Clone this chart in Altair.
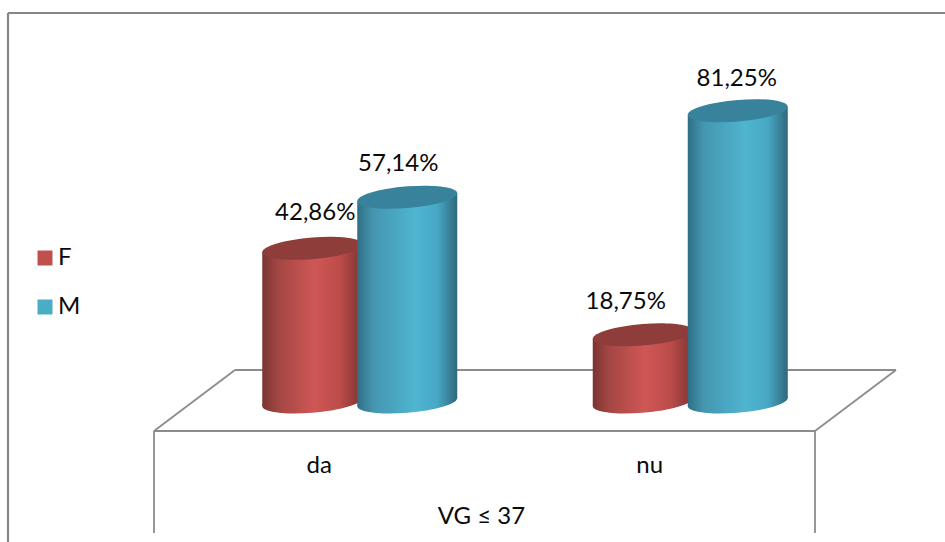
import altair as alt
import pandas as pd

# Share of each sex within the two answer groups
categories = ["da", "nu"]
series_names = ["F", "M"]
series_f = [42.86, 18.75]
series_m = [57.14, 81.25]
axis_title = "VG ≤ 37"

colors = {"F": "#c0504d", "M": "#4bacc6"}
top_colors = {"F": "#8f3d3a", "M": "#38839b"}
stops = {
    "F": [(0, "#7b3432"), (0.16, "#a34643"), (0.52, "#cf5755"), (0.78, "#bb4c4a"), (1, "#7b3432")],
    "M": [(0, "#2f6e85"), (0.16, "#4596b0"), (0.58, "#4fb5d1"), (0.8, "#47a8c4"), (1, "#2e687c")],
}

W, H = 945, 542
BAND_PX = 330.5          # horizontal pixels per category
FRONT_PX = 154           # left end of the floor's front edge
BASE_PX = 406            # vertical position of value 0
PER_UNIT = 3.585         # pixels per percentage point
CYL_W = 100              # cylinder width in pixels
RISE = 8                 # the cylinder's right side sits this many pixels higher
CAP_B = 10.8             # half-height of a cap before shearing
FONT = "Lato"
FONT_SIZE = 24
INK = "#0a0a0a"

x_scale = alt.Scale(domain=[-FRONT_PX / BAND_PX, (W - FRONT_PX) / BAND_PX], nice=False, zero=False)
y_scale = alt.Scale(domain=[(BASE_PX - H) / PER_UNIT, BASE_PX / PER_UNIT], nice=False, zero=False)


def cap_path(half_w, half_rise, half_h):
    """Closed sheared ellipse in the [-1, 1] square used by custom point shapes."""
    k = 0.5523
    s, m = half_rise / half_w, half_h / half_w

    def pt(c, t):
        return f"{c:.4f},{-s * c + m * t:.4f}"

    return (
        f"M{pt(1, 0)} C{pt(1, -k)} {pt(k, -1)} {pt(0, -1)} "
        f"C{pt(-k, -1)} {pt(-1, -k)} {pt(-1, 0)} "
        f"C{pt(-1, k)} {pt(-k, 1)} {pt(0, 1)} "
        f"C{pt(k, 1)} {pt(1, k)} {pt(1, 0)} Z"
    )


CAP = cap_path(CYL_W / 2, RISE / 2, CAP_B)
CAP_SIZE = CYL_W ** 2


def gradient(name):
    return alt.Gradient(
        gradient="linear", x1=0, x2=1, y1=0, y2=0,
        stops=[alt.GradientStop(offset=o, color=c) for o, c in stops[name]],
    )


# Cylinder centres: series side by side, pushed back onto the floor
SERIES_SHIFT = {"F": -47.5, "M": 47.5}
DEPTH_SHIFT = 40.5
rows = []
for name, values in zip(series_names, [series_f, series_m]):
    for i, (cat, v) in enumerate(zip(categories, values)):
        rows.append({
            "series": name, "category": cat, "value": v,
            "cx": i + 0.5 + (SERIES_SHIFT[name] + DEPTH_SHIFT) / BAND_PX,
            "label": f"{v:.2f}".replace(".", ",") + "%",
        })
cylinders = pd.DataFrame(rows)

body_rows = []
for r in rows:
    for side in (-1, 1):
        body_rows.append({
            **r,
            "x": r["cx"] + side * (CYL_W / 2) / BAND_PX,
            "top": r["value"] + (side + 1) / 2 * RISE / PER_UNIT,
            "bottom": (side + 1) / 2 * RISE / PER_UNIT,
        })
bodies = pd.DataFrame(body_rows)
cylinders["top_c"] = cylinders["value"] + RISE / 2 / PER_UNIT
cylinders["bottom_c"] = RISE / 2 / PER_UNIT

X = lambda f: alt.X(f, type="quantitative", scale=x_scale, axis=None)
Y = lambda f: alt.Y(f, type="quantitative", scale=y_scale, axis=None)

layers = []

# Floor and frame
LINE = "#8c8c8c"
frame = [
    (8, 8, 13, 542, "#868686", 2.2), (8, 945, 13, 13, "#868686", 2.2),
    (154, 815, 431, 431, LINE, 1.8), (235, 896, 370, 370, LINE, 1.8),
    (154, 235, 431, 370, LINE, 1.8), (815, 896, 431, 370, LINE, 1.8),
    (154, 154, 431, 533, LINE, 1.8), (815, 815, 431, 533, LINE, 1.8),
]
for x0, x1, y0, y1, col, sw in frame:
    layers.append(
        alt.Chart(pd.DataFrame({"a": [0]})).mark_rule(color=col, strokeWidth=sw).encode(
            x=alt.value(x0), x2=alt.value(x1), y=alt.value(y0), y2=alt.value(y1)
        )
    )

# Red cylinders first so the blue ones overlap them
for name in series_names:
    sub_b = bodies[bodies["series"] == name]
    sub_c = cylinders[cylinders["series"] == name]
    layers.append(
        alt.Chart(sub_c).mark_point(shape=CAP, size=CAP_SIZE, filled=True, fill=gradient(name),
                                    opacity=1, strokeWidth=0).encode(x=X("cx"), y=Y("bottom_c"))
    )
    layers.append(
        alt.Chart(sub_b).mark_area(fill=gradient(name), orient="vertical", opacity=1).encode(
            x=X("x"), y=Y("top"), y2=alt.Y2("bottom"), detail="category:N"
        )
    )
    layers.append(
        alt.Chart(sub_c).mark_point(shape=CAP, size=CAP_SIZE, filled=True, fill=top_colors[name],
                                    opacity=1, strokeWidth=0).encode(x=X("cx"), y=Y("top_c"))
    )

# Value labels, each nudged clear of its neighbour
NUDGE = {("F", "da"): (3, -39), ("M", "da"): (-9, -37), ("F", "nu"): (-17, -37), ("M", "nu"): (-1, -36)}
for r in rows:
    dx, dy = NUDGE[(r["series"], r["category"])]
    layers.append(
        alt.Chart(pd.DataFrame([r])).mark_text(font=FONT, fontSize=FONT_SIZE, color=INK, dx=dx, dy=dy,
                                               baseline="middle", align="center").encode(
            x=X("cx"), y=Y("value"), text="label:N"
        )
    )

# Category names and the grouping title on the floor's front wall
cat_df = pd.DataFrame({"category": categories, "pos": [0.5, 1.5]})
layers.append(
    alt.Chart(cat_df).mark_text(font=FONT, fontSize=FONT_SIZE, color=INK, baseline="middle").encode(
        x=X("pos"), y=alt.value(466), text="category:N"
    )
)
layers.append(
    alt.Chart(pd.DataFrame({"t": [axis_title], "pos": [1.0]})).mark_text(
        font=FONT, fontSize=FONT_SIZE, color=INK, baseline="middle", dx=-3).encode(
        x=X("pos"), y=alt.value(517), text="t:N"
    )
)

# Legend comes from an invisible layer so its swatches stay flat-coloured
legend_df = pd.DataFrame({"series": series_names, "pos": [0.5, 0.5], "v": [0, 0]})
layers.append(
    alt.Chart(legend_df).mark_point(filled=True, size=0, opacity=0).encode(
        x=X("pos"), y=Y("v"),
        color=alt.Color(
            "series:N",
            scale=alt.Scale(domain=series_names, range=[colors[s] for s in series_names]),
            legend=alt.Legend(
                orient="none", legendX=33, legendY=246, title=None, symbolType="square",
                symbolSize=225, symbolOpacity=1, symbolStrokeWidth=0, labelFont=FONT, labelFontSize=FONT_SIZE,
                labelColor=INK, rowPadding=25, labelOffset=1, padding=0,
            ),
        ),
    )
)

chart = alt.layer(*layers).properties(
    width=W, height=H, padding=0, autosize=alt.AutoSizeParams(type="none"),
    background="white",
).configure_view(stroke=None)

chart.save("out.html", embed_options={"renderer": "svg", "actions": False})
